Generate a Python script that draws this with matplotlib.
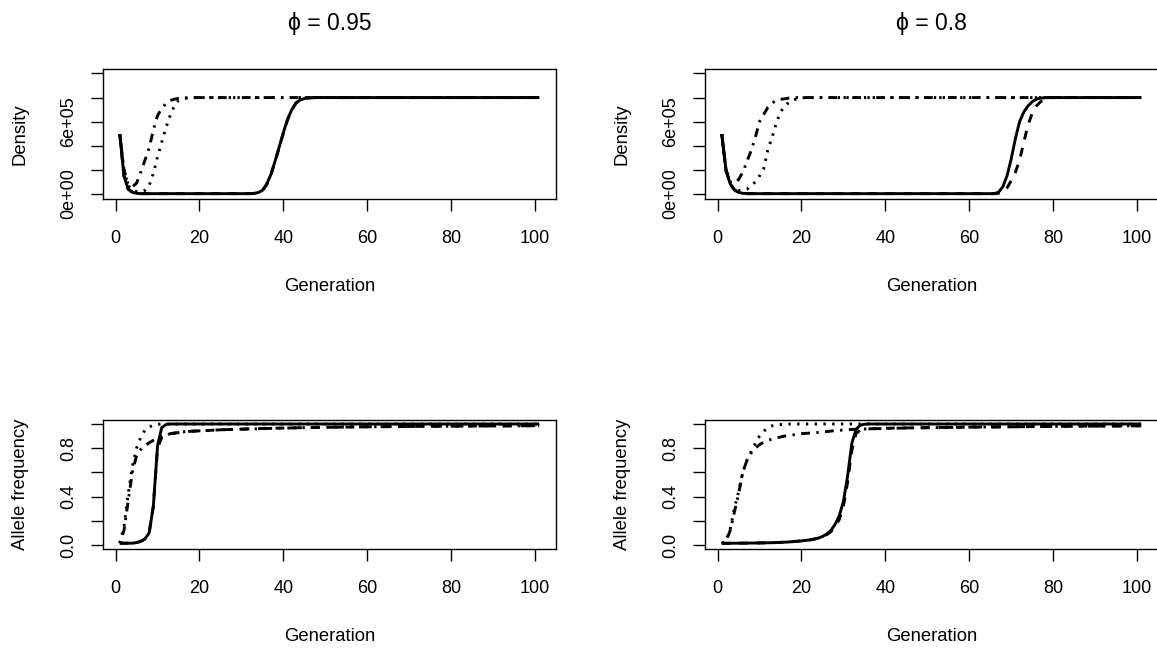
import matplotlib
matplotlib.use('Agg')
import matplotlib.pyplot as plt

# font close to the Arial used by R's png device
plt.rcParams['font.family'] = ['Liberation Sans', 'DejaVu Sans']

"""
Data read off the figure: generation (x) and value (y) for each line.
Density panels (top), allele frequency panels (bottom).
"""

# phi = 0.95, density
d95_solid_gen = [1, 2, 3, 4, 5, 6, 32, 33, 34, 35, 36, 37, 38, 39, 40, 41, 42, 43, 44, 45, 46, 47, 48, 101]
d95_solid = [4.95e5, 1.5e5, 4e4, 1.5e4, 6e3, 3e3, 3e3, 5e3, 1.2e4, 3e4, 8e4, 1.6e5, 2.7e5, 3.9e5,
             5.1e5, 6.2e5, 7.0e5, 7.55e5, 7.8e5, 7.92e5, 7.97e5, 7.99e5, 8e5, 8e5]
d95_dashed_gen = [1, 2, 3, 4, 5, 6, 32, 33, 34, 35, 36, 37, 38, 39, 40, 41, 42, 43, 44, 45, 46, 47, 48, 101]
d95_dashed = [4.95e5, 1.5e5, 4e4, 1.5e4, 6e3, 3e3, 3e3, 5e3, 1.1e4, 2.8e4, 7.6e4, 1.55e5, 2.65e5, 3.85e5,
              5.05e5, 6.15e5, 6.97e5, 7.53e5, 7.8e5, 7.92e5, 7.97e5, 7.99e5, 8e5, 8e5]
d95_dotdash_gen = [1, 2, 3, 4, 5, 6, 7, 8, 9, 10, 11, 12, 13, 14, 15, 16, 17, 18, 101]
d95_dotdash = [4.95e5, 2e5, 8e4, 6e4, 9e4, 1.8e5, 2.8e5, 3.8e5, 5.3e5, 6.5e5, 7.1e5, 7.5e5, 7.75e5,
               7.87e5, 7.93e5, 7.96e5, 7.98e5, 8e5, 8e5]
d95_dotted_gen = [1, 2, 3, 4, 5, 6, 7, 8, 9, 10, 11, 12, 13, 14, 15, 16, 17, 18, 19, 101]
d95_dotted = [4.95e5, 2e5, 7e4, 3e4, 2e4, 2e4, 3e4, 7e4, 1.7e5, 3.1e5, 4.3e5, 5.5e5, 6.5e5, 7.3e5,
              7.75e5, 7.9e5, 7.96e5, 7.99e5, 8e5, 8e5]

# phi = 0.8, density
d80_solid_gen = [1, 2, 3, 4, 5, 6, 7, 66, 67, 68, 69, 70, 71, 72, 73, 74, 75, 76, 77, 78, 79, 101]
d80_solid = [4.95e5, 2e5, 8.5e4, 3.5e4, 1.3e4, 6e3, 3e3, 3e3, 1.5e4, 6e4, 1.5e5, 2.9e5, 4.6e5, 6.0e5,
             6.8e5, 7.3e5, 7.65e5, 7.87e5, 7.95e5, 7.98e5, 8e5, 8e5]
d80_dashed_gen = [1, 2, 3, 4, 5, 6, 7, 66, 67, 68, 69, 70, 71, 72, 73, 74, 75, 76, 77, 78, 79, 80, 101]
d80_dashed = [4.95e5, 2e5, 8.5e4, 3.5e4, 1.3e4, 6e3, 3e3, 3e3, 6e3, 1.5e4, 5e4, 1.1e5, 1.8e5, 2.8e5,
              4.3e5, 5.7e5, 6.7e5, 7.3e5, 7.65e5, 7.85e5, 7.95e5, 8e5, 8e5]
d80_dotdash_gen = [1, 2, 3, 4, 5, 6, 7, 8, 9, 10, 11, 12, 13, 14, 15, 16, 17, 18, 101]
d80_dotdash = [4.95e5, 2e5, 1e5, 9e4, 1.2e5, 1.8e5, 2.7e5, 3.6e5, 4.7e5, 6.0e5, 6.6e5, 7.2e5, 7.55e5,
               7.75e5, 7.85e5, 7.9e5, 7.96e5, 8e5, 8e5]
d80_dotted_gen = [1, 2, 3, 4, 5, 6, 7, 8, 9, 10, 11, 12, 13, 14, 15, 16, 17, 18, 19, 20, 21, 101]
d80_dotted = [4.95e5, 1.9e5, 8e4, 4e4, 3e4, 3e4, 4e4, 7e4, 1e5, 1.5e5, 2.1e5, 3.7e5, 4.7e5, 5.9e5,
              6.8e5, 7.3e5, 7.6e5, 7.8e5, 7.9e5, 7.97e5, 8e5, 8e5]

# phi = 0.95, allele frequency
a95_solid_gen = [1, 4, 5, 6, 7, 8, 9, 10, 11, 12, 13, 101]
a95_solid = [0.015, 0.015, 0.02, 0.03, 0.05, 0.1, 0.32, 0.82, 0.97, 0.995, 1.0, 1.0]
a95_dashed_gen = [1, 4, 5, 6, 7, 8, 9, 10, 11, 12, 13, 14, 16, 18, 25, 35, 45, 60, 80, 101]
a95_dashed = [0.015, 0.015, 0.02, 0.03, 0.05, 0.1, 0.32, 0.8, 0.89, 0.905, 0.918, 0.924, 0.934, 0.94,
              0.952, 0.963, 0.97, 0.977, 0.982, 0.986]
a95_dotdash_gen = [1, 2, 3, 4, 5, 6, 7, 8, 9, 10, 11, 12, 13, 14, 16, 18, 25, 35, 45, 60, 80, 101]
a95_dotdash = [0.015, 0.12, 0.36, 0.6, 0.74, 0.79, 0.82, 0.845, 0.865, 0.88, 0.895, 0.905, 0.92, 0.925,
               0.935, 0.94, 0.952, 0.962, 0.97, 0.977, 0.982, 0.986]
a95_dotted_gen = [1, 2, 3, 4, 5, 6, 7, 8, 9, 10, 11, 101]
a95_dotted = [0.015, 0.15, 0.42, 0.65, 0.8, 0.89, 0.95, 0.975, 0.99, 0.997, 1.0, 1.0]

# phi = 0.8, allele frequency
a80_solid_gen = [1, 5, 10, 14, 17, 20, 22, 24, 25, 26, 27, 28, 29, 30, 31, 32, 33, 34, 35, 36, 101]
a80_solid = [0.014, 0.015, 0.017, 0.02, 0.025, 0.034, 0.042, 0.057, 0.07, 0.09, 0.12, 0.17, 0.24, 0.36,
             0.57, 0.84, 0.955, 0.99, 0.998, 1.0, 1.0]
a80_dashed_gen = [1, 5, 10, 14, 17, 20, 22, 24, 25, 26, 27, 28, 29, 30, 31, 32, 33, 34, 36, 40, 50, 60, 80, 101]
a80_dashed = [0.014, 0.015, 0.017, 0.02, 0.025, 0.034, 0.042, 0.055, 0.066, 0.085, 0.11, 0.15, 0.21, 0.32,
              0.52, 0.78, 0.92, 0.95, 0.96, 0.965, 0.97, 0.974, 0.98, 0.985]
a80_dotdash_gen = [1, 2, 3, 4, 5, 6, 7, 8, 9, 10, 11, 12, 14, 16, 18, 20, 24, 28, 32, 36, 45, 60, 80, 101]
a80_dotdash = [0.014, 0.03, 0.12, 0.27, 0.42, 0.6, 0.7, 0.76, 0.8, 0.83, 0.85, 0.865, 0.885, 0.9, 0.91,
               0.92, 0.93, 0.945, 0.955, 0.96, 0.967, 0.974, 0.98, 0.985]
a80_dotted_gen = [1, 2, 3, 4, 5, 6, 7, 8, 9, 10, 11, 12, 13, 14, 16, 18, 101]
a80_dotted = [0.014, 0.03, 0.13, 0.3, 0.44, 0.6, 0.7, 0.77, 0.84, 0.9, 0.94, 0.97, 0.985, 0.993, 0.998, 1.0, 1.0]

titles = ['\u03d5 = 0.95', '\u03d5 = 0.8']
x_ticks = [0, 20, 40, 60, 80, 100]
dens_ticks = [0, 2e5, 4e5, 6e5, 8e5, 1e6]
dens_labels = ['0e+00', '', '', '6e+05', '', '']
freq_ticks = [0, 0.2, 0.4, 0.6, 0.8, 1.0]
freq_labels = ['0.0', '', '0.4', '', '0.8', '']

#R line types: solid, dashed "44", dotted "13", dotdash "1343"
line_styles = ['-', (0, (3, 3)), (0, (0.8, 2.2)), (0, (0.8, 2.2, 3, 2.2))]

W, H = 1157, 648
fig = plt.figure(figsize=(W / 100, H / 100), dpi=100)

def add_panel(left, top, right, bottom):
    #panel box given in pixels
    return fig.add_axes([left / W, 1 - bottom / H, (right - left) / W, (bottom - top) / H])

def style_panel(ax, yticks, ylabels, ylabel):
    ax.set_xlim(-3, 105)
    ax.set_xticks(x_ticks)
    ax.set_yticks(yticks)
    ax.set_yticklabels(ylabels, rotation=90, va='center')
    ax.tick_params(axis='both', direction='out', length=8.5, width=1, labelsize=13, color='black')
    ax.tick_params(axis='x', pad=14)
    ax.tick_params(axis='y', pad=10)
    for s in ax.spines.values():
        s.set_linewidth(1)
    ax.set_xlabel('Generation', fontsize=13.3)
    ax.set_ylabel(ylabel, fontsize=13.3)
    h = ax.get_position().height * H
    w = ax.get_position().width * W
    ax.xaxis.set_label_coords(0.5, -79 / h)
    ax.yaxis.set_label_coords(-74 / w, 0.5)

panels = [
    (add_panel(103, 69, 556, 199),
     [(d95_solid_gen, d95_solid), (d95_dashed_gen, d95_dashed), (d95_dotted_gen, d95_dotted), (d95_dotdash_gen, d95_dotdash)],
     dens_ticks, dens_labels, 'Density', (-4.15e4, 1.037e6), titles[0]),
    (add_panel(705, 69, 1158, 199),
     [(d80_solid_gen, d80_solid), (d80_dashed_gen, d80_dashed), (d80_dotted_gen, d80_dotted), (d80_dotdash_gen, d80_dotdash)],
     dens_ticks, dens_labels, 'Density', (-4.15e4, 1.037e6), titles[1]),
    (add_panel(103, 420, 556, 549),
     [(a95_solid_gen, a95_solid), (a95_dashed_gen, a95_dashed), (a95_dotted_gen, a95_dotted), (a95_dotdash_gen, a95_dotdash)],
     freq_ticks, freq_labels, 'Allele frequency', (-0.033, 1.033), None),
    (add_panel(705, 420, 1158, 549),
     [(a80_solid_gen, a80_solid), (a80_dashed_gen, a80_dashed), (a80_dotted_gen, a80_dotted), (a80_dotdash_gen, a80_dotdash)],
     freq_ticks, freq_labels, 'Allele frequency', (-0.033, 1.033), None),
]

for ax, series, yt, yl, ylab, ylim, title in panels:
    for (g, v), ls in zip(series, line_styles):
        ax.plot(g, v, color='black', linewidth=2.1, linestyle=ls, solid_capstyle='butt', dash_capstyle='butt')
    ax.set_ylim(*ylim)
    style_panel(ax, yt, yl, ylab)
    if title is not None:
        ax.set_title(title, fontsize=16.5, pad=28)

fig.savefig('out.png', dpi=100)
